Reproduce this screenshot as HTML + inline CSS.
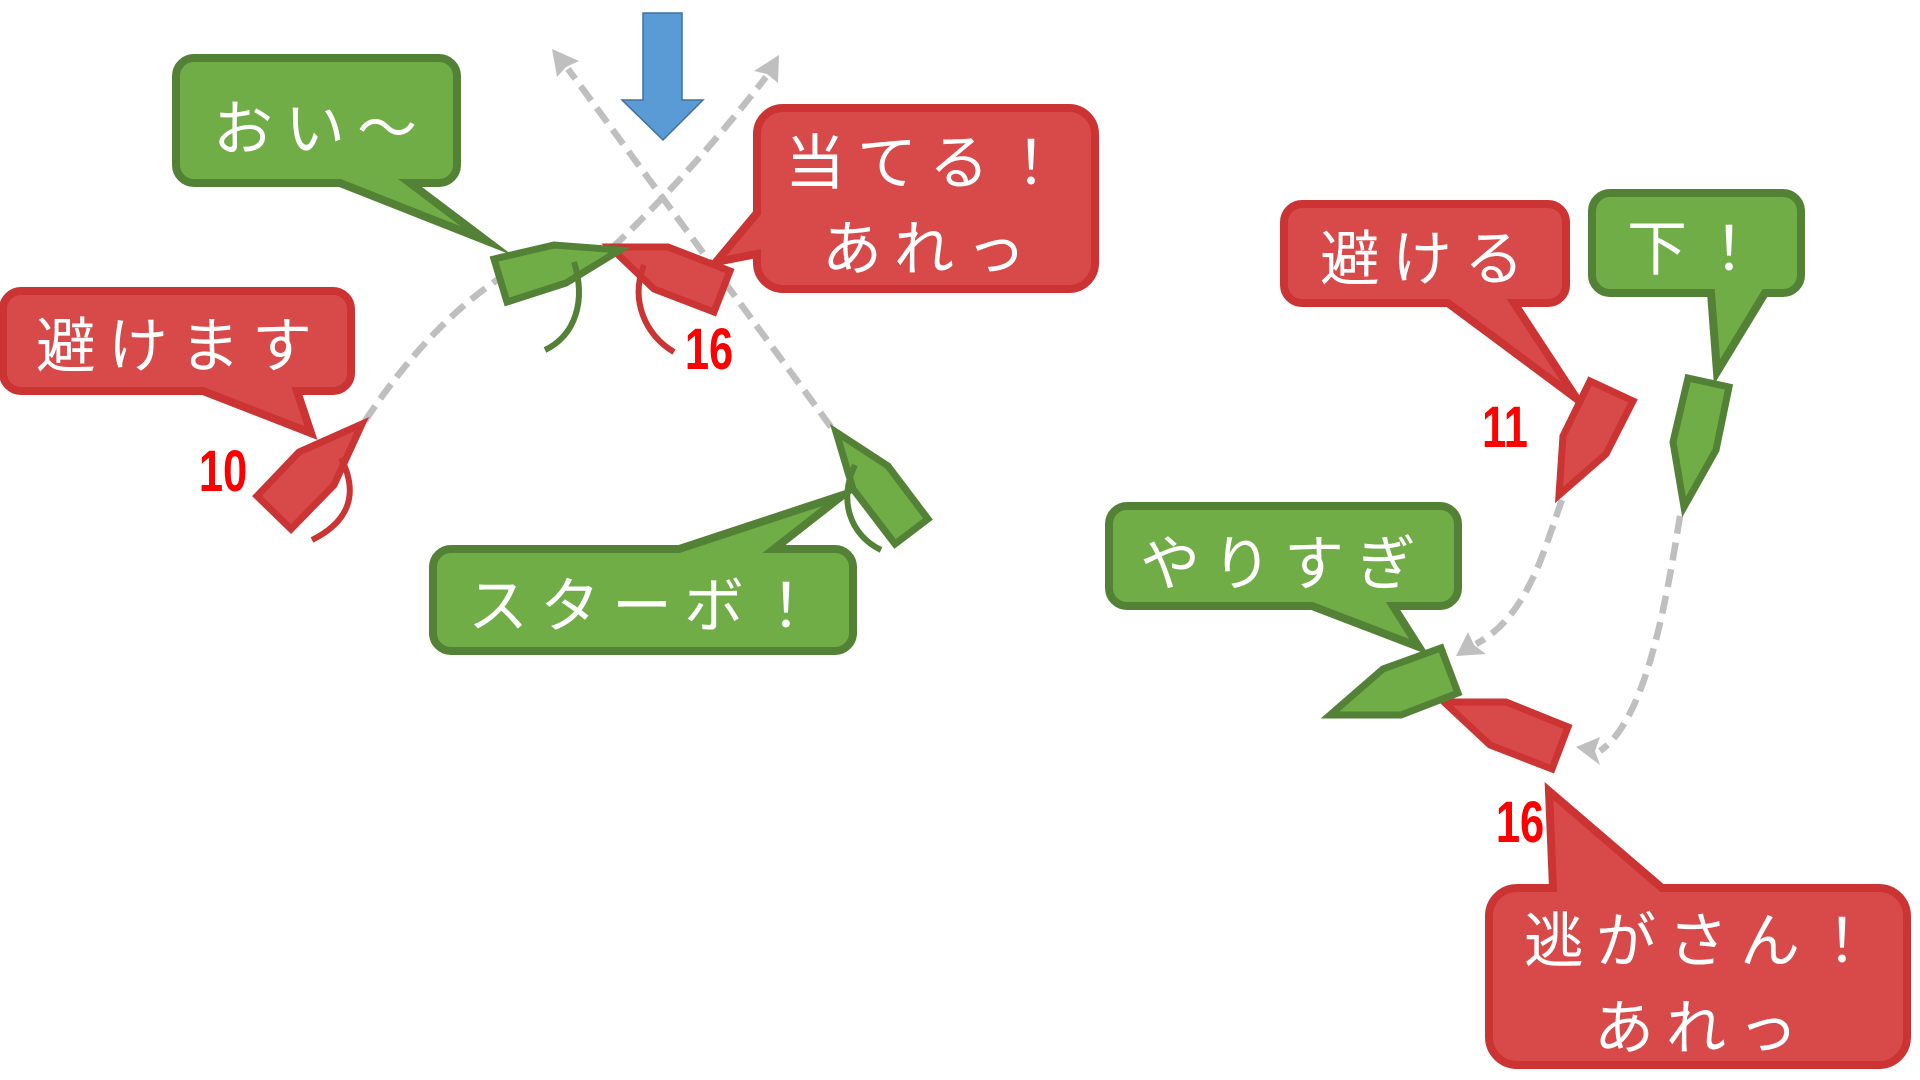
<!DOCTYPE html>
<html><head><meta charset="utf-8">
<style>
html,body{margin:0;padding:0;background:#fff;}
svg{display:block;}
.t{font-family:"Liberation Sans","Noto Sans CJK JP",sans-serif;font-size:60px;fill:#fff;letter-spacing:12px;}
.n{font-family:"Liberation Sans",sans-serif;font-weight:bold;font-size:58px;fill:#ff0000;text-anchor:middle;}
.g{fill:#70AD47;stroke:#538135;stroke-width:8;stroke-linejoin:miter;stroke-miterlimit:20;}
.r{fill:#D84A4A;stroke:#CC3333;stroke-width:8;stroke-linejoin:miter;stroke-miterlimit:20;}
.gs{fill:#70AD47;stroke:#538135;stroke-width:7;stroke-linejoin:miter;stroke-miterlimit:20;}
.rs{fill:#D84A4A;stroke:#CC3333;stroke-width:7;stroke-linejoin:miter;stroke-miterlimit:20;}
.d{fill:none;stroke:#BFBFBF;stroke-width:6.5;stroke-dasharray:18 9;}
.ah{fill:#BFBFBF;}
.ga{fill:none;stroke:#538135;stroke-width:6;}
.ra{fill:none;stroke:#CC3333;stroke-width:6;}
</style></head>
<body>
<svg width="1920" height="1080" viewBox="0 0 1920 1080" xmlns="http://www.w3.org/2000/svg">
<rect width="1920" height="1080" fill="#fff"/>

<!-- dashed trajectories -->
<path class="d" d="M365,421 Q427.5,326.5 500,278"/>
<path class="d" d="M612,248 Q691,173.5 766,77"/>
<path class="d" d="M831,427 L568,69"/>
<path class="d" d="M1562,500 C1545,545 1530,615 1476,644"/>
<path class="d" d="M1680,516 C1665,610 1645,720 1600,751"/>
<polygon class="ah" points="552,49 557,77 566,67 579,61"/>
<polygon class="ah" points="779,55 754,71 767,74 778,83"/>
<polygon class="ah" points="1456,656 1468,632 1474,645 1486,654"/>
<polygon class="ah" points="1576,747 1600,737 1595,751 1600,765"/>

<!-- blue arrow -->
<polygon points="643,13 682,13 682,100 703,100 663,140 622,100 643,100" fill="#5B9BD5" stroke="#41719C" stroke-width="1.5"/>

<!-- callouts -->
<path class="g" d="M194,58 H439 A18,18 0 0 1 457,76 V165 A18,18 0 0 1 439,183 H410 L487,241 L340,183 H194 A18,18 0 0 1 176,165 V76 A18,18 0 0 1 194,58 Z"/>
<path class="r" d="M21,291 H333 A18,18 0 0 1 351,309 V373 A18,18 0 0 1 333,391 H297 L311,433 L203,391 H21 A18,18 0 0 1 3,373 V309 A18,18 0 0 1 21,291 Z"/>
<path class="r" d="M783,108 H1069 A26,26 0 0 1 1095,134 V263 A26,26 0 0 1 1069,289 H783 A26,26 0 0 1 757,263 V254 L716,262 L757,213 V134 A26,26 0 0 1 783,108 Z"/>
<path class="g" d="M451,549 H679 L843,495 L774,549 H835 A18,18 0 0 1 853,567 V633 A18,18 0 0 1 835,651 H451 A18,18 0 0 1 433,633 V567 A18,18 0 0 1 451,549 Z"/>
<path class="r" d="M1302,204 H1548 A18,18 0 0 1 1566,222 V285 A18,18 0 0 1 1548,303 H1514 L1577,399 L1448,303 H1302 A18,18 0 0 1 1284,285 V222 A18,18 0 0 1 1302,204 Z"/>
<path class="g" d="M1610,193 H1783 A18,18 0 0 1 1801,211 V275 A18,18 0 0 1 1783,293 H1765 L1717,372 L1711,293 H1610 A18,18 0 0 1 1592,275 V211 A18,18 0 0 1 1610,193 Z"/>
<path class="g" d="M1127,506 H1440 A18,18 0 0 1 1458,524 V588 A18,18 0 0 1 1440,606 H1393 L1419,647 L1312,606 H1127 A18,18 0 0 1 1109,588 V524 A18,18 0 0 1 1127,506 Z"/>
<path class="r" d="M1517,888 H1553 L1549,791 L1662,888 H1879 A28,28 0 0 1 1907,916 V1037 A28,28 0 0 1 1879,1065 H1517 A28,28 0 0 1 1489,1037 V916 A28,28 0 0 1 1517,888 Z"/>

<!-- callout text -->
<text class="t" x="213" y="150">おい〜</text>
<text class="t" x="36" y="367">避けます</text>
<text class="t" x="785" y="184">当てる！</text>
<text class="t" x="822" y="270">あれっ</text>
<text class="t" x="468" y="627">スターボ！</text>
<text class="t" x="1320" y="280">避ける</text>
<text class="t" x="1627" y="270">下！</text>
<text class="t" x="1140" y="585">やりすぎ</text>
<text class="t" x="1524" y="962">逃がさん！</text>
<text class="t" x="1594" y="1049">あれっ</text>

<!-- ships -->
<polygon class="rs" points="362,424 334,485 291,529 257,496 299,452"/>
<polygon class="rs" points="610,247 668,247 730,271 714,312 654,289"/>
<polygon class="gs" points="494,259 554,245 620,250 566,283 507,302"/>
<polygon class="gs" points="836,432 888,466 928,519 895,544 853,489"/>
<polygon class="rs" points="1590,381 1633,401 1606,454 1559,495 1563,436"/>
<polygon class="gs" points="1688,378 1729,387 1716,450 1684,507 1673,442"/>
<polygon class="rs" points="1444,702 1506,702 1568,727 1552,769 1490,745"/>
<polygon class="gs" points="1441,648 1458,693 1401,715 1330,715 1383,669"/>

<!-- turn arcs -->
<path class="ra" d="M341,458 Q368,512 312,540"/>
<path class="ga" d="M574,262 C586,300 576,335 545,350"/>
<path class="ra" d="M644,265 C630,300 645,335 674,352"/>
<path class="ga" d="M855,465 C838,500 850,535 881,550"/>

<!-- numbers -->
<text class="n" transform="translate(223,491) scale(0.75,1)">10</text>
<text class="n" transform="translate(709,369) scale(0.75,1)">16</text>
<text class="n" transform="translate(1505,447) scale(0.75,1)">11</text>
<text class="n" transform="translate(1520,842) scale(0.75,1)">16</text>
</svg>
</body></html>
